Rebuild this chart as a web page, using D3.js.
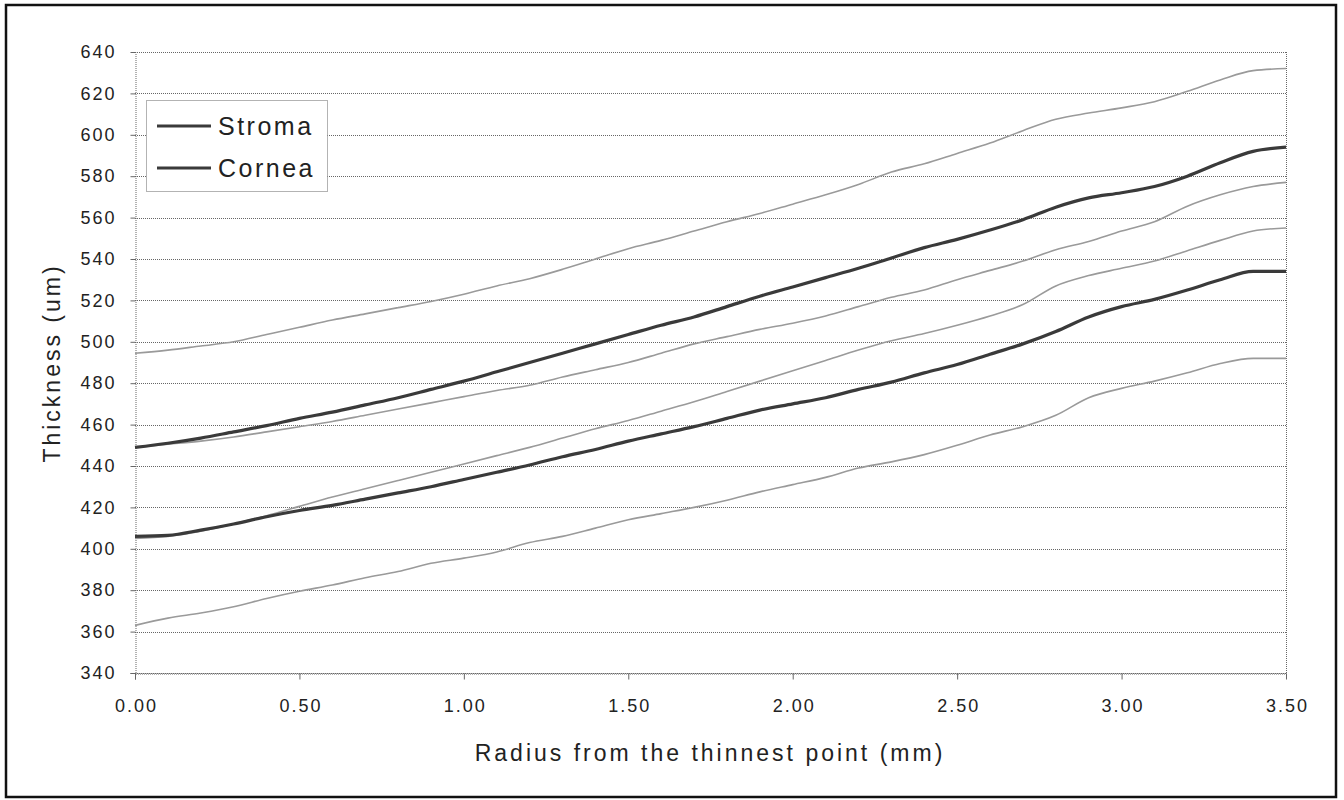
<!DOCTYPE html>
<html>
<head>
<meta charset="utf-8">
<script src="https://cdn.jsdelivr.net/npm/d3@7"></script>
<style>
  html, body { margin: 0; padding: 0; background: #fff; }
  svg { display: block; }
</style>
</head>
<body>
<svg id="chart" width="1344" height="800"></svg>
<script>
// ---- data ----
const radius = [0.0, 0.1, 0.2, 0.3, 0.4, 0.5, 0.6, 0.7, 0.8, 0.9,
                1.0, 1.1, 1.2, 1.3, 1.4, 1.5, 1.6, 1.7, 1.8, 1.9,
                2.0, 2.1, 2.2, 2.3, 2.4, 2.5, 2.6, 2.7, 2.8, 2.9,
                3.0, 3.1, 3.2, 3.3, 3.4, 3.5];
const corneaMean = [449, 451, 453.5, 456.5, 459.5, 463, 466, 469.5, 473, 477,
                    481, 485.5, 490, 494.5, 499, 503.5, 508, 512, 517, 522,
                    526.5, 531, 535.5, 540.5, 545.5, 549.5, 554, 559, 565, 569.5,
                    572, 575, 580, 586.5, 592, 594];
const corneaUpper = [494.5, 496, 498, 500, 503.5, 507, 510.5, 513.5, 516.5, 519.5,
                     523, 527, 530.5, 535, 540, 545, 549, 553.5, 558, 562,
                     566.5, 571, 576, 582, 586, 591, 596, 602, 607.5, 610.5,
                     613, 616, 621, 626.5, 631, 632];
const corneaLower = [405, 406, 408.5, 412, 416, 420.5, 425, 429, 433, 437,
                     441, 445, 449, 453.5, 458, 462, 466.5, 471, 476, 481,
                     486, 491, 496, 500.5, 504, 508, 512.5, 518, 527, 532,
                     535.5, 539, 544, 549, 553.5, 555];
const stromaMean = [406, 406.5, 409, 412, 415.5, 418.5, 421, 424, 427, 430,
                    433.5, 437, 440.5, 444.5, 448, 452, 455.5, 459, 463, 467,
                    470, 473, 477, 480.5, 485, 489, 494, 499, 505, 512,
                    517, 520.5, 525, 530, 534, 534];
const stromaUpper = [449, 450.5, 452, 454, 456.5, 459, 461.5, 464.5, 467.5, 470.5,
                     473.5, 476.5, 479, 483, 486.5, 490, 494.5, 499, 502.5, 506,
                     509, 512.5, 517, 521.5, 525, 530, 534.5, 539, 544.5, 548.5,
                     553.5, 558, 565.5, 571, 575, 577];
const stromaLower = [363, 366.5, 369, 372, 376, 379.5, 382.5, 386, 389, 393,
                     395.5, 398.5, 403, 406, 410, 414, 417, 420, 423.5, 427.5,
                     431, 434.5, 439, 442, 445.5, 450, 455, 459, 464.5, 473,
                     477.5, 481, 485, 489.5, 492, 492];
const yTicks = [340, 360, 380, 400, 420, 440, 460, 480, 500, 520, 540, 560, 580, 600, 620, 640];
const xTicks = [0.0, 0.5, 1.0, 1.5, 2.0, 2.5, 3.0, 3.5];
const legendNames = ["Stroma", "Cornea"];
const xTitle = "Radius from the thinnest point (mm)";
const yTitle = "Thickness (um)";

// ---- chart ----
const svg = d3.select("#chart");
const FONT = "'Liberation Sans', Arial, sans-serif";

const x = d3.scaleLinear().domain([0, 3.5]).range([135, 1286]);
const y = d3.scaleLinear().domain([340, 640]).range([673, 52]);

// outer frame
svg.append("rect")
  .attr("x", 6).attr("y", 5).attr("width", 1330).attr("height", 792)
  .attr("fill", "#fff").attr("stroke", "#111").attr("stroke-width", 2.5);

// gridlines
svg.append("g").selectAll("line").data(yTicks).join("line")
  .attr("x1", x(0)).attr("x2", x(3.5))
  .attr("y1", d => Math.round(y(d)) + 0.5).attr("y2", d => Math.round(y(d)) + 0.5)
  .attr("stroke", "#666").attr("stroke-width", 1).attr("stroke-dasharray", "1,1");

// right border of plot
svg.append("line")
  .attr("x1", Math.round(x(3.5)) + 0.5).attr("x2", Math.round(x(3.5)) + 0.5)
  .attr("y1", y(640)).attr("y2", y(340))
  .attr("stroke", "#666").attr("stroke-dasharray", "1,1");

// axes
const yAxis = svg.append("g")
  .attr("transform", `translate(${Math.round(x(0)) + 0.5},0)`)
  .call(d3.axisLeft(y).tickValues(yTicks).tickFormat(d3.format("d")).tickSize(5).tickPadding(14));
const xAxis = svg.append("g")
  .attr("transform", `translate(0,${Math.round(y(340)) + 0.5})`)
  .call(d3.axisBottom(x).tickValues(xTicks).tickFormat(d3.format(".2f")).tickSize(6).tickPadding(20));

[yAxis, xAxis].forEach(g => {
  g.select(".domain").attr("stroke", "#666").attr("stroke-dasharray", "1,1");
  g.selectAll(".tick line").attr("stroke", "#666");
  g.selectAll(".tick text").attr("fill", "#222")
    .style("font-family", FONT).style("font-size", "18px").style("letter-spacing", "2px");
});
xAxis.selectAll(".tick text").attr("dx", "1px");

// series lines
const line = d3.line().x((d, i) => x(radius[i])).y(d => y(d)).curve(d3.curveMonotoneX);
const sdSeries = [corneaUpper, corneaLower, stromaUpper, stromaLower];
svg.append("g").selectAll("path").data(sdSeries).join("path")
  .attr("d", line).attr("fill", "none")
  .attr("stroke", "#9a9a9a").attr("stroke-width", 1.6);
const meanSeries = [stromaMean, corneaMean];
svg.append("g").selectAll("path").data(meanSeries).join("path")
  .attr("d", line).attr("fill", "none")
  .attr("stroke", "#3a3a3a").attr("stroke-width", 3.2);

// legend
const lg = svg.append("g");
lg.append("rect").attr("x", 146.5).attr("y", 100.5).attr("width", 181).attr("height", 91)
  .attr("fill", "#fff").attr("stroke", "#666").attr("stroke-dasharray", "1,1");
legendNames.forEach((name, i) => {
  const cy = 126 + i * 42;
  lg.append("line").attr("x1", 157).attr("x2", 211).attr("y1", cy).attr("y2", cy)
    .attr("stroke", "#3a3a3a").attr("stroke-width", 3.2);
  lg.append("text").attr("x", 218).attr("y", cy + 9).text(name)
    .attr("fill", "#222").style("font-family", FONT).style("font-size", "25px").style("letter-spacing", "2.5px");
});

// axis titles
svg.append("text").attr("x", 710).attr("y", 761).attr("text-anchor", "middle")
  .text(xTitle).attr("fill", "#222")
  .style("font-family", FONT).style("font-size", "23px").style("letter-spacing", "3px");
svg.append("text")
  .attr("transform", `translate(60,363) rotate(-90)`).attr("text-anchor", "middle")
  .text(yTitle).attr("fill", "#222")
  .style("font-family", FONT).style("font-size", "23px").style("letter-spacing", "3px");
</script>
</body>
</html>
